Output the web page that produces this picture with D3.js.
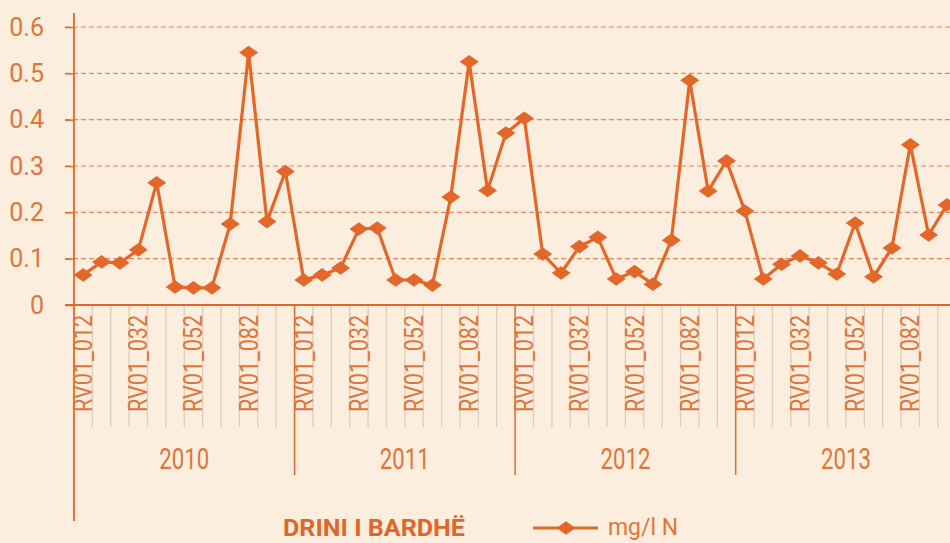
<!DOCTYPE html>
<html>
<head>
<meta charset="utf-8">
<script src="https://cdn.jsdelivr.net/npm/d3@7"></script>
<style>
  html, body { margin: 0; padding: 0; background: #fbeedf; overflow: hidden; }
  svg { display: block; font-family: Roboto, "DejaVu Sans Condensed", sans-serif; }
</style>
</head>
<body>
<svg width="950" height="543"></svg>
<script>
// data
const years = ['2010', '2011', '2012', '2013']
const stations = ['RV01_012', 'RV01_022', 'RV01_023', 'RV01_032', 'RV01_042', 'RV01_043',
                  'RV01_052', 'RV01_062', 'RV01_072', 'RV01_082', 'RV01_092', 'RV01_102']
const labelledStations = ['RV01_012', 'RV01_032', 'RV01_052', 'RV01_082']
const values2010 = [0.065, 0.093, 0.091, 0.119, 0.264, 0.039, 0.037, 0.037, 0.175, 0.545, 0.180, 0.288]
const values2011 = [0.054, 0.065, 0.080, 0.164, 0.166, 0.054, 0.054, 0.043, 0.233, 0.525, 0.247, 0.371]
const values2012 = [0.403, 0.110, 0.069, 0.126, 0.146, 0.056, 0.072, 0.045, 0.140, 0.485, 0.246, 0.311]
const values2013 = [0.203, 0.056, 0.088, 0.106, 0.091, 0.067, 0.177, 0.061, 0.123, 0.346, 0.151, 0.216]
const yTicks = [0, 0.1, 0.2, 0.3, 0.4, 0.5, 0.6]
const seriesName = 'mg/l N'
const riverName = 'DRINI I BARDHË'

const seriesByYear = [values2010, values2011, values2012, values2013]
const data = []
years.forEach((year, i) => {
  stations.forEach((st, j) => {
    data.push({ key: year + '|' + st, year, station: st, value: seriesByYear[i][j] })
  })
})

const orange = '#e4672a'
const textOrange = '#df7639'
const margin = { top: 27, left: 74, axisY: 305 }

const svg = d3.select('svg')

const x = d3.scaleBand()
  .domain(data.map(d => d.key))
  .range([margin.left, margin.left + 48 * 18.38])
  .padding(0)

const y = d3.scaleLinear()
  .domain([0, 0.6])
  .range([margin.axisY, margin.top])

// dashed gridlines
svg.append('g')
  .selectAll('line')
  .data(yTicks.filter(t => t > 0))
  .join('line')
    .attr('x1', margin.left - 9)
    .attr('x2', 950)
    .attr('y1', d => y(d))
    .attr('y2', d => y(d))
    .attr('stroke', '#e98a55')
    .attr('stroke-width', 1.2)
    .attr('stroke-dasharray', '5,3')

// y axis labels
const yAxis = g =>
  g.attr('transform', `translate(${margin.left}, 0)`)
   .call(d3.axisLeft(y).tickValues(yTicks).tickSize(9).tickPadding(21)
     .tickFormat(d => d === 0 ? '0' : d3.format('.1f')(d)))
   .call(g => g.select('.domain').remove())
   .call(g => g.selectAll('.tick line').attr('stroke', orange).attr('stroke-width', 1.5))
   .call(g => g.selectAll('.tick text')
     .attr('fill', textOrange)
     .attr('font-size', 25)
     .attr('font-family', 'Roboto, sans-serif'))

svg.append('g').attr('class', 'y-axis').call(yAxis)

// minor ticks at category boundaries
const bounds = data.map(d => x(d.key)).filter((v, i) => i % 12 !== 0)
svg.append('g')
  .selectAll('line')
  .data(bounds)
  .join('line')
    .attr('x1', d => d)
    .attr('x2', d => d)
    .attr('y1', margin.axisY)
    .attr('y2', 427)
    .attr('stroke', '#dccdbd')
    .attr('stroke-width', 1.3)

// year separators
svg.append('g')
  .selectAll('line')
  .data(years.slice(1))
  .join('line')
    .attr('x1', d => x(d + '|' + stations[0]))
    .attr('x2', d => x(d + '|' + stations[0]))
    .attr('y1', margin.axisY)
    .attr('y2', 475)
    .attr('stroke', orange)
    .attr('stroke-width', 1.5)

// axes lines
svg.append('line')
  .attr('x1', margin.left - 9).attr('x2', 950)
  .attr('y1', margin.axisY).attr('y2', margin.axisY)
  .attr('stroke', orange).attr('stroke-width', 1.8)

svg.append('line')
  .attr('x1', margin.left).attr('x2', margin.left)
  .attr('y1', 13).attr('y2', 521)
  .attr('stroke', orange).attr('stroke-width', 1.8)

// station labels (rotated)
svg.append('g')
  .selectAll('text')
  .data(data.filter(d => labelledStations.includes(d.station)))
  .join('text')
    .attr('transform', d => `translate(${x(d.key) + x.bandwidth() / 2 + 9}, 315) rotate(-90)`)
    .attr('text-anchor', 'end')
    .attr('fill', textOrange)
    .attr('font-size', 25)
    .attr('textLength', 97)
    .attr('lengthAdjust', 'spacingAndGlyphs')
    .text(d => d.station)

// year labels
svg.append('g')
  .selectAll('text')
  .data(years)
  .join('text')
    .attr('x', d => x(d + '|' + stations[0]) + 6 * x.bandwidth() - 25)
    .attr('y', 469)
    .attr('fill', textOrange)
    .attr('font-size', 29)
    .attr('textLength', 50)
    .attr('lengthAdjust', 'spacingAndGlyphs')
    .text(d => d)

// line + markers
const line = d3.line()
  .x(d => x(d.key) + x.bandwidth() / 2)
  .y(d => y(d.value))

svg.append('path')
  .datum(data)
  .attr('d', line)
  .attr('fill', 'none')
  .attr('stroke', orange)
  .attr('stroke-width', 3.2)
  .attr('stroke-linejoin', 'miter')

const diamond = 'M0,-6.8L9.5,0L0,6.8L-9.5,0Z'

svg.append('g')
  .selectAll('path')
  .data(data)
  .join('path')
    .attr('transform', d => `translate(${x(d.key) + x.bandwidth() / 2}, ${y(d.value)})`)
    .attr('d', diamond)
    .attr('fill', orange)

// legend
const legend = svg.append('g').attr('transform', 'translate(533, 528)')
legend.append('line')
  .attr('x1', 0).attr('x2', 65).attr('y1', 0).attr('y2', 0)
  .attr('stroke', orange).attr('stroke-width', 3)
legend.append('path')
  .attr('transform', 'translate(33, 0)')
  .attr('d', diamond)
  .attr('fill', orange)
legend.append('text')
  .attr('x', 75).attr('y', 7)
  .attr('fill', textOrange)
  .attr('font-size', 23)
  .attr('textLength', 70)
  .attr('lengthAdjust', 'spacingAndGlyphs')
  .text(seriesName)

svg.append('text')
  .attr('x', 283).attr('y', 536)
  .attr('fill', '#e0662a')
  .attr('font-size', 24)
  .attr('font-weight', 'bold')
  .attr('textLength', 182)
  .attr('lengthAdjust', 'spacingAndGlyphs')
  .text(riverName)
</script>
</body>
</html>
